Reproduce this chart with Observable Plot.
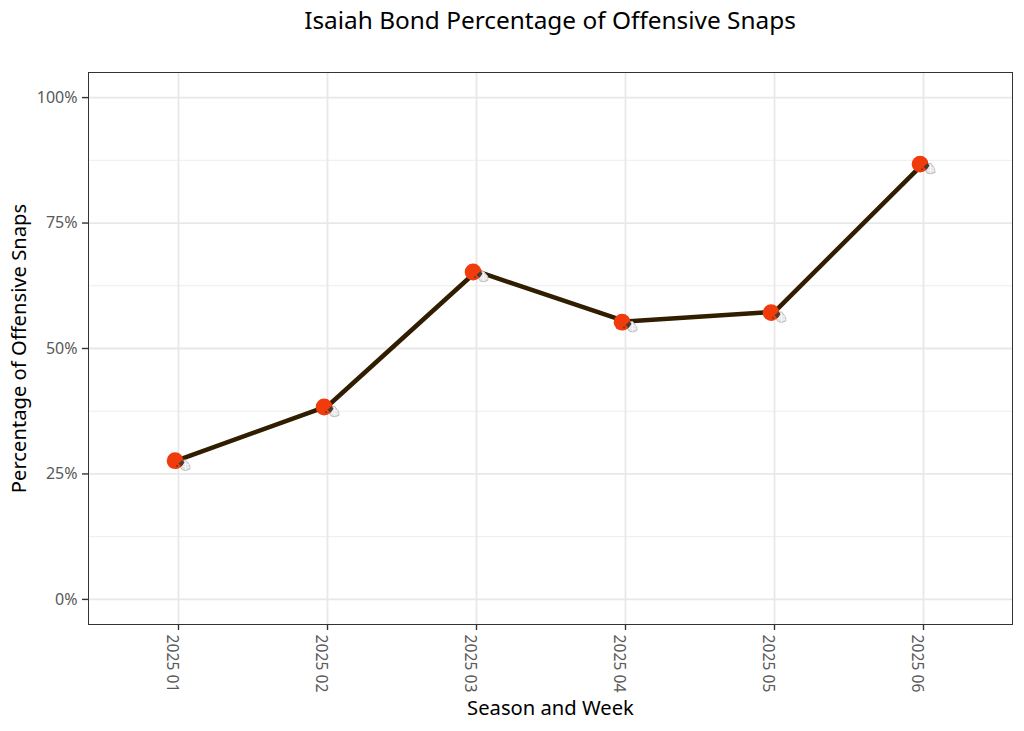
<!DOCTYPE html>
<html>
<head>
<meta charset="utf-8">
<script src="https://cdn.jsdelivr.net/npm/d3@7"></script>
<script src="https://cdn.jsdelivr.net/npm/@observablehq/plot@0.6"></script>
<style>
html,body{margin:0;padding:0;background:#fff}
#title{font:24.4px/1 "Noto Sans",sans-serif;color:#000;height:45px;padding-top:8px;box-sizing:border-box;text-align:center;width:1024px;padding-left:76px}
svg{display:block}
</style>
</head>
<body>
<div id="title"></div>
<div id="chart"></div>
<script>
const chartTitle = "Isaiah Bond Percentage of Offensive Snaps";
const weeks = ["2025 01","2025 02","2025 03","2025 04","2025 05","2025 06"];
const snapShare = [0.278,0.385,0.654,0.554,0.573,0.869];
const majorY = [0,0.25,0.5,0.75,1];
const minorY = [0.125,0.375,0.625,0.875];
const rows = weeks.map((week,i)=>({week,share:snapShare[i]}));

const helmetSvg = `<svg xmlns="http://www.w3.org/2000/svg" viewBox="-18 -18 36 36">
<path d="M2 1 L7 0 L11 5 L11.5 9 L8 10.5 L4 10 L1 6Z" fill="#e4e4e4" stroke="#bdbdbd" stroke-width="1"/>
<path d="M4 3.5 L11 5 M4 6.5 L11 7.5 M7 1 L7 10" stroke="#f8f8f8" stroke-width="0.9"/>
<circle cx="-3.4" cy="0.8" r="8.4" fill="#f03c0c"/>
<path d="M0 -5 L4 -1 L3.5 3 L0 8 L-3 9Z" fill="#f03c0c"/>
<path d="M0 3.5 L4 0 L6 2.5 L3 6.5Z" fill="#4a3a30"/>
<circle cx="-1.5" cy="6" r="0.9" fill="#4a3a30"/>
</svg>`;
const helmet = "data:image/svg+xml," + encodeURIComponent(helmetSvg);

document.getElementById("title").textContent = chartTitle;

const plot = Plot.plot({
  width:1024, height:686,
  marginLeft:88, marginRight:12, marginTop:27, marginBottom:107,
  style:{fontFamily:"'Noto Sans',sans-serif",background:"#fff",overflow:"visible"},
  x:{type:"point",domain:weeks,padding:0.6,label:null},
  y:{domain:[-0.05,1.05],label:null},
  marks:[
    Plot.ruleY(minorY,{stroke:"#ebebeb",strokeWidth:0.9}),
    Plot.ruleY(majorY,{stroke:"#e8e8e8",strokeWidth:1.8}),
    Plot.ruleX(weeks,{stroke:"#e8e8e8",strokeWidth:1.8}),
    Plot.axisY({ticks:majorY,tickFormat:d=>Math.round(d*100)+"%",tickSize:6,tickPadding:5,fontSize:16,color:"#595959",stroke:"#333",strokeWidth:1.4,
      label:"Percentage of Offensive Snaps",labelAnchor:"center",labelArrow:"none",labelOffset:77}),
    Plot.axisX({text:null,tickSize:6,stroke:"#333",strokeWidth:1.4,label:null}),
    Plot.axisX({tickSize:0,tickPadding:10,dx:-6,tickRotate:90,fontSize:15.7,color:"#595959",
      label:"Season and Week",labelAnchor:"center",labelArrow:"none",labelOffset:90}),
    Plot.line(rows,{x:"week",y:"share",stroke:"#311d00",strokeWidth:4.5}),
    Plot.image(rows,{x:"week",y:"share",src:()=>helmet,width:36,height:36}),
    Plot.frame({stroke:"#333",strokeWidth:1})
  ]
});
document.getElementById("chart").append(plot);
d3.select(plot).selectAll("[aria-label='y-axis label'] text, [aria-label='x-axis label'] text").style("font-size","20.2px").style("fill","#000");
</script>
</body>
</html>
